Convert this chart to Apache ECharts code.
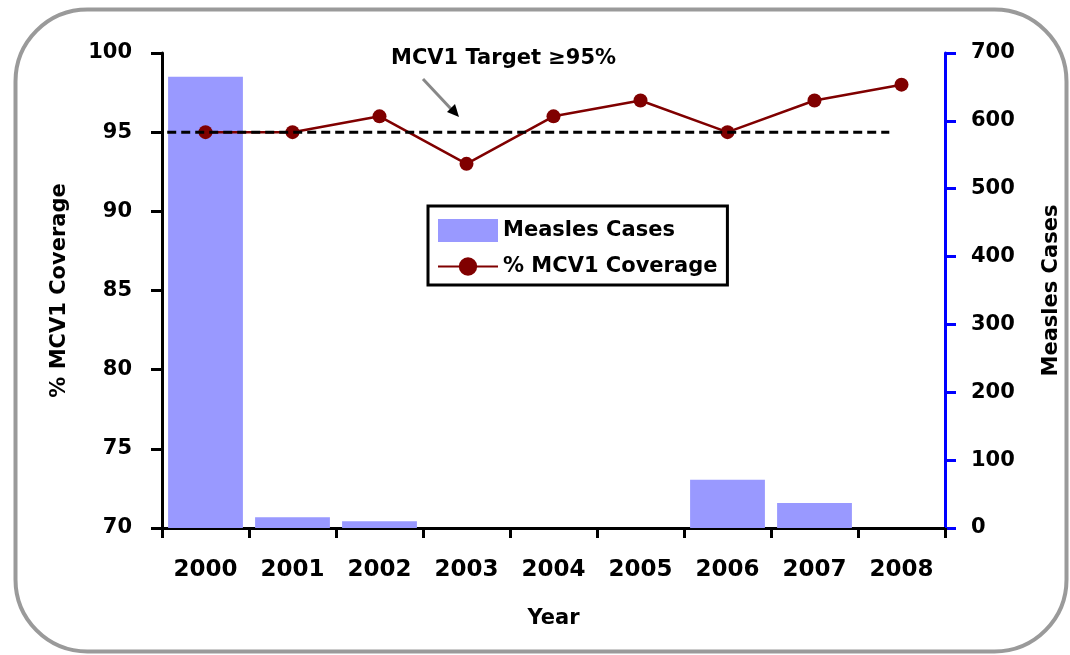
<!DOCTYPE html>
<html><head><meta charset="utf-8">
<script src="https://cdn.jsdelivr.net/npm/echarts@6/dist/echarts.min.js"></script>
<style>html,body{margin:0;padding:0;background:#fff}#c{width:1070px;height:655px}</style>
</head><body><div id="c"></div>
<script>
const years = ['2000', '2001', '2002', '2003', '2004', '2005', '2006', '2007', '2008'];
const measlesCases = [665, 16, 10, 0, 0, 0, 71, 37, 0];
const mcv1Coverage = [95, 95, 96, 93, 96, 97, 95, 97, 98];
const targetCoverage = 95;
const targetSpan = [-0.44, 7.86]; // in category-index units
const targetLabel = 'MCV1 Target \u226595%';

const FONT = 'DejaVu Sans';
const txt = (size) => ({ fontFamily: FONT, fontWeight: 'bold', fontSize: size, color: '#000' });

const chart = echarts.init(document.getElementById('c'), null, { renderer: 'canvas' });
chart.setOption({
  animation: false,
  backgroundColor: '#fff',
  grid: { left: 162, right: 124, top: 53, bottom: 127, containLabel: false },
  legend: {
    data: [{ name: 'Measles Cases', icon: 'rect' }, { name: '% MCV1 Coverage' }],
    orient: 'vertical', left: 428, top: 206,
    borderColor: '#000', borderWidth: 3, backgroundColor: '#fff',
    padding: [13, 10, 8, 9], itemWidth: 60, itemHeight: 23, itemGap: 14,
    textStyle: txt(21)
  },
  xAxis: [
    {
      type: 'category', data: years, boundaryGap: true,
      axisLine: { show: true, onZero: false, lineStyle: { color: '#000', width: 3 } },
      axisTick: { show: true, length: 10, lineStyle: { color: '#000', width: 3 } },
      axisLabel: Object.assign({ margin: 31 }, txt(23)),
      splitLine: { show: false },
      name: 'Year', nameLocation: 'middle', nameGap: 80, nameTextStyle: txt(21)
    },
    { type: 'value', min: -0.5, max: 8.5, show: false, axisLine: { onZero: false } }
  ],
  yAxis: [
    {
      type: 'value', min: 70, max: 100, interval: 5, position: 'left',
      axisLine: { show: true, onZero: false, lineStyle: { color: '#000', width: 3 } },
      axisTick: { show: true, length: 11, lineStyle: { color: '#000', width: 3 } },
      axisLabel: Object.assign({ margin: 30 }, txt(21)),
      splitLine: { show: false },
      name: '% MCV1 Coverage', nameLocation: 'middle', nameRotate: 90, nameGap: 92,
      nameTextStyle: txt(21)
    },
    {
      type: 'value', min: 0, max: 700, interval: 100, position: 'right',
      axisLine: { show: true, onZero: false, lineStyle: { color: '#0000FF', width: 3 } },
      axisTick: { show: true, length: 11, lineStyle: { color: '#0000FF', width: 3 } },
      axisLabel: Object.assign({ margin: 26 }, txt(21)),
      splitLine: { show: false },
      name: 'Measles Cases', nameLocation: 'middle', nameRotate: 90, nameGap: 96,
      nameTextStyle: txt(21)
    }
  ],
  series: [
    {
      name: 'Measles Cases', type: 'bar', xAxisIndex: 0, yAxisIndex: 1,
      data: measlesCases, barCategoryGap: '14%',
      itemStyle: { color: '#9999FF' }, z: 1
    },
    {
      name: '% MCV1 Coverage', type: 'line', xAxisIndex: 0, yAxisIndex: 0,
      data: mcv1Coverage, symbol: 'circle', symbolSize: 14,
      lineStyle: { color: '#800000', width: 2.5 },
      itemStyle: { color: '#800000' }, z: 3
    },
    {
      name: 'target', type: 'line', xAxisIndex: 1, yAxisIndex: 0,
      data: [[targetSpan[0], targetCoverage], [targetSpan[1], targetCoverage]],
      symbol: 'none', silent: true,
      lineStyle: { color: '#000', width: 3, type: [9, 5] }, z: 5
    }
  ],
  graphic: [
    {
      type: 'rect', left: 13, top: 7, z: -10, silent: true,
      shape: { width: 1051, height: 642, r: 72 },
      style: { fill: 'none', stroke: '#9a9a9a', lineWidth: 4 }
    },
    {
      type: 'text', left: 391, top: 48, z: 10,
      style: { text: targetLabel, font: 'bold 21px "DejaVu Sans"', fill: '#000' }
    },
    {
      type: 'line', z: 10, silent: true,
      shape: { x1: 423, y1: 79, x2: 452, y2: 110 },
      style: { stroke: '#888', lineWidth: 3 }
    },
    {
      type: 'polygon', z: 10, silent: true,
      shape: { points: [[459, 117], [447, 112], [455, 104]] },
      style: { fill: '#000' }
    }
  ]
});
</script>
</body></html>
